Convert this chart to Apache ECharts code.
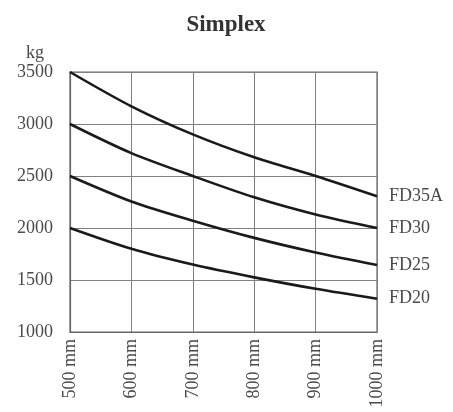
<!DOCTYPE html>
<html><head><meta charset="utf-8">
<script src="https://cdn.jsdelivr.net/npm/echarts@6/dist/echarts.min.js"></script>
<style>html,body{margin:0;padding:0;background:#fff}#c{width:453px;height:412px}</style>
</head><body><div id="c"></div>
<script>
const categories = ['500 mm','600 mm','700 mm','800 mm','900 mm','1000 mm'];
const fd35a = [3500, 3170, 2900, 2680, 2500, 2305];
const fd30  = [3000, 2720, 2500, 2295, 2130, 2000];
const fd25  = [2500, 2255, 2070, 1905, 1765, 1645];
const fd20  = [2000, 1800, 1648, 1525, 1415, 1320];
const seriesNames = ['FD35A','FD30','FD25','FD20'];
const yTicks = [1000,1500,2000,2500,3000,3500];

const font = '"Liberation Serif","DejaVu Serif",serif';
const chart = echarts.init(document.getElementById('c'), null, {renderer:'canvas'});
const mk = (name, data) => ({
  name, type:'line', data, smooth:0.3, symbol:'none',
  lineStyle:{color:'#1a1a1a', width:2.6},
  endLabel:{show:true, formatter:name, color:'#4a4a4a', fontFamily:font, fontSize:18, distance:12},
  emphasis:{disabled:true}, animation:false
});
chart.setOption({
  animation:false,
  title:{text:'Simplex', left:221, textAlign:'center', top:9,
    textStyle:{fontFamily:font, fontWeight:'bold', fontSize:23, color:'#333'}},
  grid:{left:70, right:76, top:72, bottom:80},
  xAxis:{type:'category', data:categories, boundaryGap:false,
    axisLine:{lineStyle:{color:'#666', width:1.2}}, axisTick:{show:false},
    splitLine:{show:true, lineStyle:{color:'#808080', width:1}},
    axisLabel:{rotate:90, color:'#4a4a4a', fontFamily:font, fontSize:18, margin:7}},
  yAxis:{type:'value', min:yTicks[0], max:yTicks[yTicks.length-1], interval:500,
    axisLine:{show:true, lineStyle:{color:'#666', width:1.2}}, axisTick:{show:false},
    splitLine:{show:true, lineStyle:{color:'#808080', width:1}},
    axisLabel:{color:'#4a4a4a', fontFamily:font, fontSize:18, margin:17, formatter:v=>String(v)}},
  series:[mk(seriesNames[0],fd35a), mk(seriesNames[1],fd30), mk(seriesNames[2],fd25), mk(seriesNames[3],fd20)],
  graphic:[
    {type:'rect', shape:{x:70,y:72,width:307,height:260}, style:{fill:'none', stroke:'#666', lineWidth:1.2}, silent:true},
    {type:'text', left:26, top:44, style:{text:'kg', fill:'#4a4a4a', font:'18px "Liberation Serif", serif'}, silent:true}
  ]
});
</script></body></html>
